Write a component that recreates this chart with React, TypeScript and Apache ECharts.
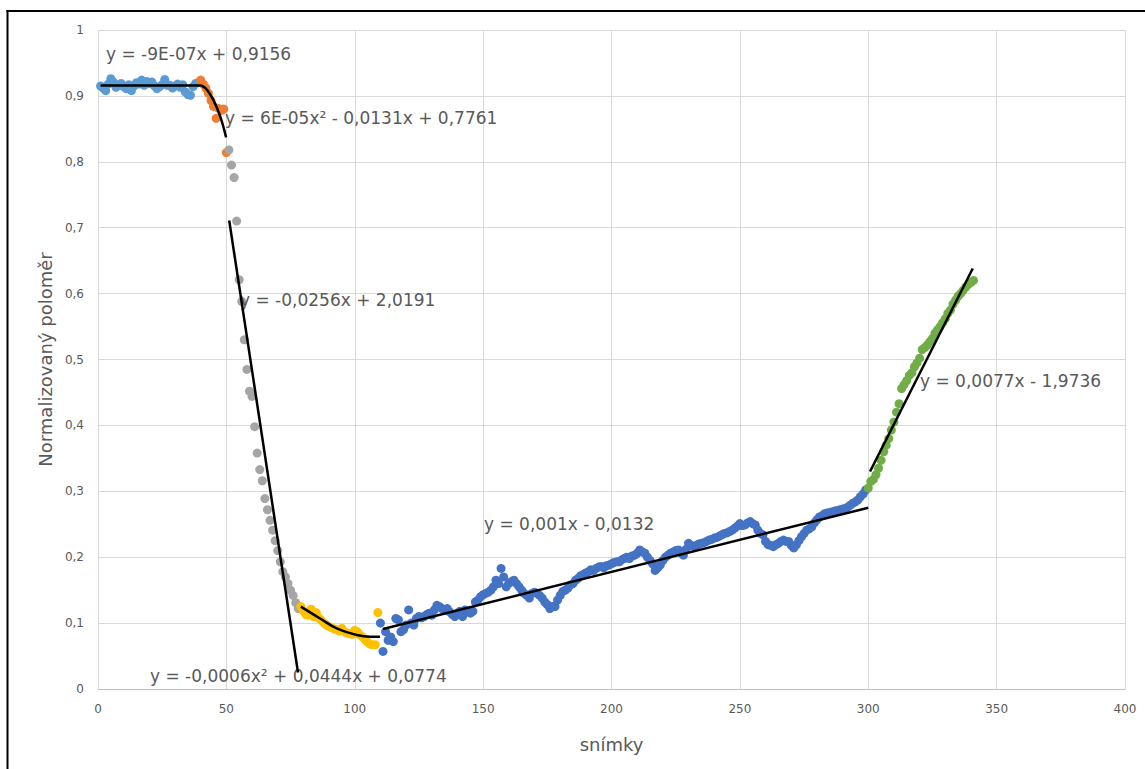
import React, { useEffect, useRef } from "react";
import * as echarts from "echarts";

// ---- Data ----
const lightBlueStart = 1;
const lightBlueValues = [
  0.915, 0.912, 0.908, 0.918, 0.926, 0.921, 0.913, 0.916, 0.919, 0.914,
  0.911, 0.917, 0.908, 0.915, 0.92, 0.918, 0.924, 0.916, 0.922, 0.919,
  0.921, 0.915, 0.911, 0.914, 0.917, 0.925, 0.916, 0.916, 0.912, 0.915,
  0.918, 0.913, 0.917, 0.906, 0.902, 0.901, 0.914, 0.919, 0.92,
];

const orangeStart = 40;
const orangeValues = [0.924, 0.918, 0.912, 0.904, 0.893, 0.884, 0.866, 0.881, 0.878, 0.88, 0.814];

const grayStart = 51;
const grayValues = [
  0.818, 0.795, 0.776, 0.71, 0.621, 0.588, 0.53, 0.485, 0.452, 0.444,
  0.398, 0.358, 0.333, 0.316, 0.289, 0.272, 0.256, 0.241, 0.225, 0.21,
  0.193, 0.178, 0.17, 0.16, 0.15, 0.142, 0.131, 0.122,
];

const yellowStart = 79;
const yellowValues = [
  0.125, 0.118, 0.113, 0.112, 0.121, 0.11, 0.116, 0.108, 0.104, 0.1,
  0.097, 0.095, 0.093, 0.091, 0.09, 0.088, 0.092, 0.087, 0.085, 0.084,
  0.083, 0.089, 0.087, 0.082, 0.079, 0.075, 0.071, 0.068, 0.067, 0.067,
  0.116,
];

const darkBlueStart = 110;
const darkBlueValues = [
  0.1, 0.057, 0.087, 0.074, 0.079, 0.072, 0.107, 0.105, 0.087, 0.09,
  0.097, 0.12, 0.1, 0.097, 0.107, 0.11, 0.108, 0.11, 0.113, 0.115,
  0.112, 0.12, 0.127, 0.125, 0.122, 0.12, 0.122, 0.117, 0.113, 0.11,
  0.115, 0.118, 0.11, 0.12, 0.118, 0.115, 0.118, 0.132, 0.135, 0.14,
  0.143, 0.145, 0.147, 0.15, 0.155, 0.165, 0.16, 0.183, 0.17, 0.155,
  0.16, 0.163, 0.165, 0.16, 0.155, 0.15, 0.145, 0.142, 0.138, 0.145,
  0.147, 0.145, 0.142, 0.138, 0.132, 0.128, 0.122, 0.125, 0.125, 0.135,
  0.142, 0.148, 0.15, 0.153, 0.158, 0.16, 0.165, 0.168, 0.172, 0.174,
  0.176, 0.178, 0.181, 0.18, 0.183, 0.185, 0.186, 0.184, 0.187, 0.188,
  0.19, 0.192, 0.193, 0.193, 0.196, 0.198, 0.2, 0.198, 0.202, 0.203,
  0.206, 0.211, 0.208, 0.206, 0.2, 0.195, 0.19, 0.18, 0.184, 0.188,
  0.195, 0.2, 0.203, 0.206, 0.208, 0.21, 0.211, 0.207, 0.203, 0.212,
  0.221, 0.218, 0.216, 0.218, 0.22, 0.221, 0.222, 0.224, 0.226, 0.227,
  0.229, 0.23, 0.232, 0.234, 0.236, 0.237, 0.239, 0.241, 0.244, 0.247,
  0.251, 0.248, 0.249, 0.252, 0.254, 0.251, 0.249, 0.241, 0.236, 0.234,
  0.224, 0.219, 0.218, 0.216, 0.219, 0.221, 0.224, 0.226, 0.224, 0.224,
  0.218, 0.214, 0.219, 0.225, 0.231, 0.236, 0.241, 0.243, 0.246, 0.252,
  0.257, 0.261, 0.263, 0.266, 0.267, 0.268, 0.269, 0.27, 0.271, 0.272,
  0.273, 0.274, 0.276, 0.279, 0.282, 0.284, 0.287, 0.292, 0.296, 0.302,
];

const greenStart = 300;
const greenValues = [
  0.305, 0.315, 0.318, 0.325, 0.335, 0.347, 0.36, 0.37, 0.38, 0.393,
  0.405, 0.42, 0.433, 0.456, 0.462, 0.468, 0.476, 0.48, 0.489, 0.495,
  0.502, 0.515, 0.518, 0.522, 0.527, 0.532, 0.54, 0.545, 0.55, 0.556,
  0.562, 0.57, 0.575, 0.584, 0.59, 0.596, 0.6, 0.605, 0.61, 0.614,
  0.617, 0.62,
];

// Trend lines
const trendLightBlue = [[1, 0.9156], [40.4, 0.9156]];
const trendOrange = [[40.4, 0.9155], [42.5, 0.909], [44.9, 0.894], [47.5, 0.87], [49.9, 0.837]];
const trendGray = [[51.1, 0.711], [77.9, 0.025]];
const trendYellow = [[79, 0.125], [86.5, 0.107], [93, 0.092], [100.8, 0.082], [106, 0.0794], [109.8, 0.0794]];
const trendDarkBlue = [[111, 0.091], [300, 0.275]];
const trendGreen = [[300.7, 0.33], [340.7, 0.638]];

const equationTexts = [
  "y = -9E-07x + 0,9156",
  "y = 6E-05x² - 0,0131x + 0,7761",
  "y = -0,0256x + 2,0191",
  "y = -0,0006x² + 0,0444x + 0,0774",
  "y = 0,001x - 0,0132",
  "y = 0,0077x - 1,9736",
];

const xAxisTitle = "snímky";
const yAxisTitle = "Normalizovaný poloměr";

// layout of equation labels (pixel positions)
const equationPos = [
  [106, 54],
  [225, 118],
  [240, 300],
  [150, 676],
  [484, 524],
  [920, 381],
];

const FONT = '"DejaVu Sans", "Liberation Sans", sans-serif';
const TXT = "#595959";

const toPairs = (start: number, vals: number[]) => vals.map((v, i) => [start + i, v]);

export default function App() {
  const ref = useRef<HTMLDivElement>(null);
  useEffect(() => {
    document.body.style.margin = "0";
    if (!ref.current) return;
    const chart = echarts.init(ref.current, undefined, { renderer: "svg" });
    const scatter = (data: number[][], color: string) => ({
      type: "scatter",
      data,
      symbolSize: 9,
      itemStyle: { color, opacity: 1 },
      z: 2,
      silent: true,
    });
    const trend = (data: number[][], smooth: boolean) => ({
      type: "line",
      data,
      symbol: "none",
      showSymbol: false,
      smooth: smooth ? 0.4 : false,
      lineStyle: { color: "#000", width: 2.5 },
      z: 4,
      silent: true,
    });
    chart.setOption({
      animation: false,
      backgroundColor: "#fff",
      grid: { left: 98, top: 30, right: 20, bottom: 80, outerBoundsMode: "none" },
      xAxis: {
        type: "value",
        min: 0,
        max: 400,
        interval: 50,
        axisLine: { show: true, lineStyle: { color: "#bfbfbf", width: 1 } },
        axisTick: { show: false },
        splitLine: { show: true, lineStyle: { color: "#d9d9d9", width: 1 } },
        axisLabel: { color: TXT, fontSize: 12, fontFamily: FONT, margin: 14 },
        name: xAxisTitle,
        nameLocation: "middle",
        nameGap: 46,
        nameTextStyle: { color: TXT, fontSize: 18, fontFamily: FONT },
      },
      yAxis: {
        type: "value",
        min: 0,
        max: 1,
        interval: 0.1,
        axisLine: { show: false },
        axisTick: { show: false },
        splitLine: { show: true, lineStyle: { color: "#d9d9d9", width: 1 } },
        axisLabel: {
          color: TXT,
          fontSize: 12,
          fontFamily: FONT,
          margin: 14,
          formatter: (v: number) => String(Math.round(v * 10) / 10).replace(".", ","),
        },
        name: yAxisTitle,
        nameLocation: "middle",
        nameGap: 44,
        nameRotate: 90,
        nameTextStyle: { color: TXT, fontSize: 18, fontFamily: FONT },
      },
      series: [
        scatter(toPairs(lightBlueStart, lightBlueValues), "#5B9BD5"),
        scatter(toPairs(orangeStart, orangeValues), "#ED7D31"),
        scatter(toPairs(grayStart, grayValues), "#A5A5A5"),
        scatter(toPairs(yellowStart, yellowValues), "#FFC000"),
        scatter(toPairs(darkBlueStart, darkBlueValues), "#4472C4"),
        scatter(toPairs(greenStart, greenValues), "#70AD47"),
        trend(trendLightBlue, false),
        trend(trendOrange, true),
        trend(trendGray, false),
        trend(trendYellow, true),
        trend(trendDarkBlue, false),
        trend(trendGreen, false),
      ],
      graphic: {
        elements: [
          ...equationTexts.map((t, i) => ({
            type: "text",
            x: equationPos[i][0],
            y: equationPos[i][1],
            z: 3,
            silent: true,
            style: {
              text: t,
              fill: TXT,
              font: `17px ${FONT}`,
              align: "left",
              verticalAlign: "middle",
            },
          })),
          {
            type: "line",
            silent: true,
            shape: { x1: 7.5, y1: 10, x2: 7.5, y2: 769 },
            style: { stroke: "#000", lineWidth: 2 },
          },
          {
            type: "line",
            silent: true,
            shape: { x1: 6.5, y1: 11, x2: 1145, y2: 11 },
            style: { stroke: "#000", lineWidth: 2 },
          },
        ],
      },
    });
    return () => chart.dispose();
  }, []);
  return <div ref={ref} style={{ width: 1145, height: 769 }} />;
}
